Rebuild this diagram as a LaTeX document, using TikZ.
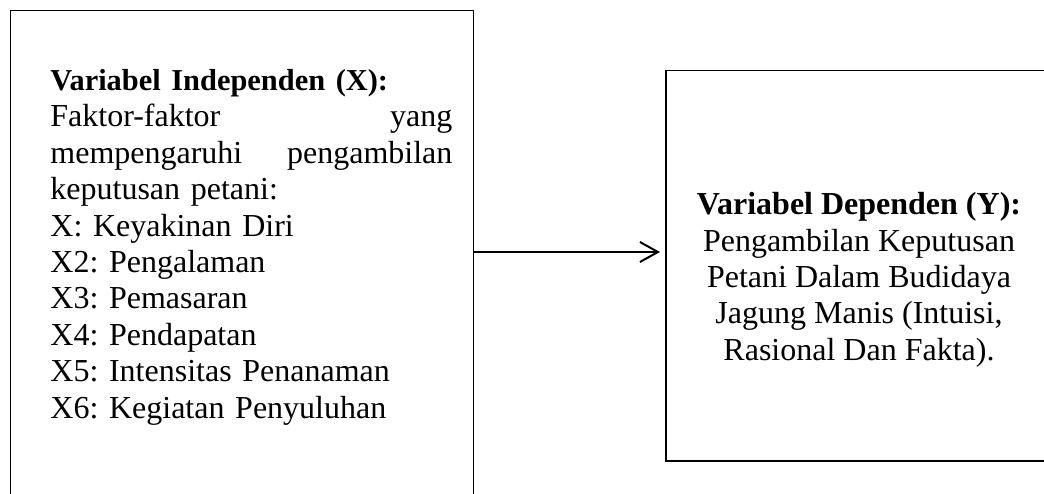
\documentclass[tikz,border=0pt]{standalone}
\usepackage{fontspec}
\setmainfont{Liberation Serif}
\frenchspacing
\usetikzlibrary{arrows.meta,positioning}

\tikzset{
	varbox/.style={draw, inner sep=0pt, anchor=north west},
	vartext/.style={inner sep=0pt, font=\fontsize{16}{18.2}\selectfont},
}

\begin{document}
\begin{tikzpicture}[x=0.5pt, y=-0.5pt]
	\useasboundingbox (0,0) rectangle (1044,493);
	\clip (0,0) rectangle (1044,493);
	% boxes
	\node[varbox, line width=0.6pt, minimum width=231.5pt, minimum height=300pt] (indepbox) at (10,10) {};
	\node[varbox, line width=0.9pt, minimum width=200pt, minimum height=195.25pt] (depbox) at (665,69.5) {};
	% texts
	\node[vartext, anchor=north west, text width=201pt, align=left] (indeptext) at (50,69)
		{{\fontsize{15.2}{18.2}\selectfont\textbf{Variabel Independen (X):}}\\
		Faktor-faktor\hfill yang\\
		mempengaruhi\hfill pengambilan\\
		keputusan petani:\\
		X: Keyakinan Diri\\
		X2: Pengalaman\\
		X3: Pemasaran\\
		X4: Pendapatan\\
		X5: Intensitas Penanaman\\
		X6: Kegiatan Penyuluhan};
	\node[vartext, anchor=north, align=center] (deptext) at (859,192)
		{\textbf{Variabel Dependen (Y):}\\
		Pengambilan Keputusan\\
		Petani Dalam Budidaya\\
		Jagung Manis (Intuisi,\\
		Rasional Dan Fakta).};
	% arrow
	\coordinate (arrowlvl) at (0,252);
	\path[-{Straight Barb[length=9pt,width=10pt]}, line width=1pt, shorten >=2.5pt]
		(indepbox.east |- arrowlvl) edge (depbox.west |- arrowlvl);
\end{tikzpicture}
\end{document}
